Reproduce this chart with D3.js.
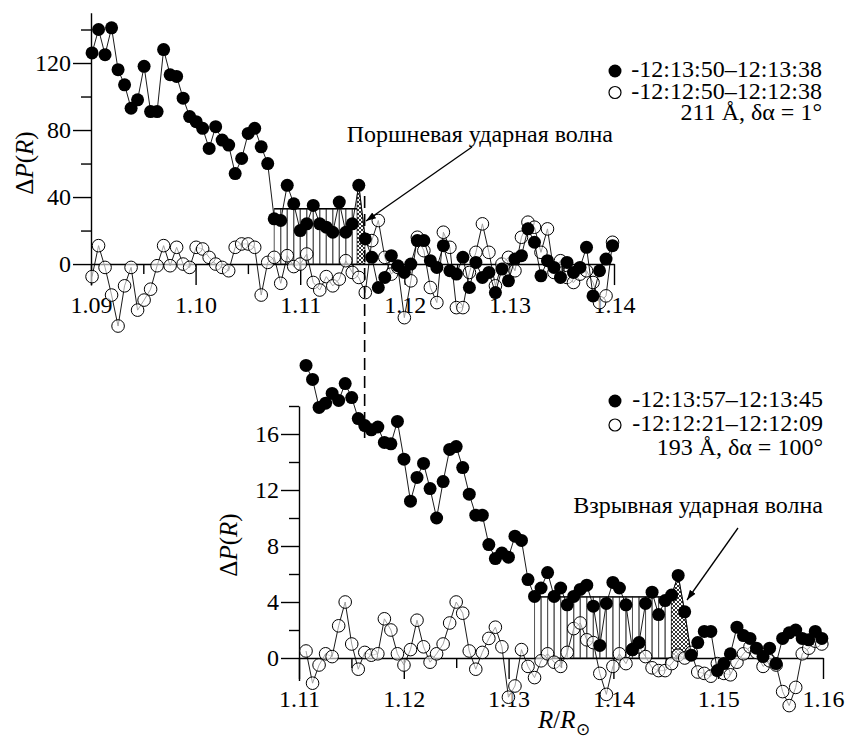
<!DOCTYPE html>
<html>
<head>
<meta charset="utf-8">
<script src="https://cdn.jsdelivr.net/npm/d3@7/dist/d3.min.js"></script>
<style>
  body { margin: 0; background: #fff; }
  text { font-family: "Liberation Serif", "Times New Roman", serif; fill: #000; }
</style>
</head>
<body>
<div id="chart"></div>
<script>
let width = 849;
let height = 738;

// ---- top panel: 211 A, delta alpha = 1 deg ----
let topR0 = 1.0901;
let topStep = 0.000622;
let topFilled = [126, 140, 125, 141, 116, 107, 93, 98, 118, 91, 91, 128, 113, 112, 99, 88, 85, 81, 69, 82,
    74, 71, 54, 63, 78, 81, 70, 60, 27, 26, 47, 36, 20, 24, 35, 24, 22, 19, 37, 19,
    24, 47, 15, 4, -14, -8, 5, -1, -5, 0, 14, 14, 2, -2, 11, -4, -6, 4, -14, 1,
    -8, -5, -17, -3, -10, 3, 5, 21, 13, -7, 2, -2, -8, 1, -5, -2, 10, -19, -4, 3, 11];
let topOpen = [-7.5, 11, -2, -18.5, -37, -13, -2, -27.5, -21.5, -15, -1, 11, -1, 10, 0, -2, 10, 9, 4, 0,
    -2, -4, 10, 12, 12, 10, -18.5, 1, 4, -11.5, 5, -1.5, 0, 6, -11, -15.5, -7.5, -13, -9, 2,
    -5, -8, -17, 14, 26, 4, -6, -2, -32, -10, 16, 8, -14, -23, 19, 10, -26, -26, -5, 7,
    24, 7, -13, 0, 4, -4, 16, 25, 22, 7, 21, -5, 2, -8, -11, -6, -4, -11, -23, -19, 13];
let topTicksX = [1.09, 1.10, 1.11, 1.12, 1.13, 1.14];
let topMinorX = [1.095, 1.105, 1.115, 1.125, 1.135];
let topTicksY = [0, 40, 80, 120];
let topMinorY = [20, 60, 100, 140];
let topBar = [28, 41, 33];          // first index, last index, mean level
let topHatch = [1.11543, 1.11619];   // R range under the hatched peak
let topLegend = ["-12:13:50\u201312:13:38", "-12:12:50\u201312:12:38", "211 \u00c5, \u03b4\u03b1 = 1\u00b0"];
let topNote = "Поршневая ударная волна";

// ---- bottom panel: 193 A, delta alpha = 100 deg ----
let botR0 = 1.11067;
let botStep = 0.000623;
let botFilled = [20.9, 19.9, 17.9, 18.2, 18.9, 18.4, 19.6, 18.6, 17.1, 16.6, 16.3, 16.5, 15.4, 15.3, 16.9, 14.2,
    11.2, 12.9, 13.9, 12.1, 10.0, 12.6, 14.9, 15.1, 13.6, 11.7, 10.2, 10.2, 8.1, 7.1, 7.5, 7.2,
    8.7, 8.4, 5.6, 4.4, 5.0, 6.1, 4.4, 5.0, 3.8, 4.4, 4.9, 5.2, 3.7, 0.9, 3.9, 5.4, 5.0, 3.8,
    0.6, 1.1, 3.9, 4.7, 3.1, 4.1, 4.5, 5.9, 3.3, 0.2, 1.1, 1.9, 1.9, -0.9, -0.4, 0.3, 2.2, 1.6,
    1.4, 0.7, 0.1, 0.7, -0.4, 1.4, 1.8, 2.0, 1.4, 1.3, 1.9, 1.4];
let botOpen = [0.5, -1.8, -0.5, 0.3, 0.1, 2.3, 4.0, 1.0, -0.8, 0.4, 0.2, 0.3, 2.8, 2.0, 0.3, -0.5,
    0.6, 2.7, 0.8, -0.3, 0.3, 1.0, 2.5, 4.0, 3.2, 0.5, -0.8, 0.4, 1.4, 2.2, 0.8, -2.8,
    -2.0, 0.6, -0.6, -1.4, -0.2, 0.3, -0.3, -0.6, 0.4, 2.1, 2.5, 1.3, 1.1, -1.1, -2.6, -0.6,
    0.3, -0.4, 0.6, 0.8, 0.1, -0.7, -0.9, -0.9, -0.4, 0.2, 0.0, 0.4, -1.0, -1.1, -1.3, -0.4,
    -1.1, -1.2, -0.3, 0.3, 0.8, 0.4, -0.6, -0.2, -0.5, -2.4, -3.4, -2.1, 0.3, 0.7, 1.2, 1.0];
let botTicksX = [1.11, 1.12, 1.13, 1.14, 1.15, 1.16];
let botMinorX = [1.115, 1.125, 1.135, 1.145, 1.155];
let botTicksY = [0, 4, 8, 12, 16];
let botMinorY = [2, 6, 10, 14, 18];
let botBar = [35, 56, 4.36];
let botHatch = [1.14553, 1.14734];
let botLegend = ["-12:13:57\u201312:13:45", "-12:12:21\u201312:12:09", "193 \u00c5, \u03b4\u03b1 = 100\u00b0"];
let botNote = "Взрывная ударная волна";

// R position of the dashed guide line joining both panels
let guideR = 1.11616;

let svg = d3.select("#chart")
    .append("svg")
    .attr("width", width)
    .attr("height", height);

let defs = svg.append("defs");
let hatch = defs.append("pattern")
    .attr("id", "xhatch")
    .attr("patternUnits", "userSpaceOnUse")
    .attr("width", 4)
    .attr("height", 4);
hatch.append("rect").attr("width", 4).attr("height", 4).attr("fill", "#fff");
hatch.append("path").attr("d", "M0,0L4,4M4,0L0,4").attr("stroke", "#000").attr("stroke-width", 0.8);

defs.append("marker")
    .attr("id", "arrow")
    .attr("viewBox", "0 0 10 10")
    .attr("refX", 10).attr("refY", 5)
    .attr("markerWidth", 10).attr("markerHeight", 10)
    .attr("markerUnits", "userSpaceOnUse")
    .attr("orient", "auto")
    .append("path")
    .attr("d", "M0,1.5L10,5L0,8.5Z")
    .attr("fill", "#000");

function drawPanel(p) {
    let x = d3.scaleLinear().domain(p.xDomain).range(p.xRange);
    let y = d3.scaleLinear().domain(p.yDomain).range(p.yRange);
    let g = svg.append("g");

    let filled = p.filled.map((v, i) => ({r: p.r0 + i * p.step, v: v}));
    let open = p.open.map((v, i) => ({r: p.r0 + i * p.step, v: v}));

    // bars at mean level
    for (let i = p.bar[0]; i < p.bar[1]; i++) {
        g.append("rect")
            .attr("x", x(filled[i].r))
            .attr("y", y(p.bar[2]))
            .attr("width", x(filled[i + 1].r) - x(filled[i].r))
            .attr("height", y(0) - y(p.bar[2]))
            .attr("fill", "none")
            .attr("stroke", "#555")
            .attr("stroke-width", 1);
    }
    g.append("line")
        .attr("x1", x(filled[p.bar[0]].r)).attr("x2", x(filled[p.bar[1]].r))
        .attr("y1", y(p.bar[2])).attr("y2", y(p.bar[2]))
        .attr("stroke", "#000").attr("stroke-width", 1.3);

    // cross-hatched area under the peak
    let interp = function (r) {
        let i = Math.floor((r - p.r0) / p.step);
        let t = (r - filled[i].r) / p.step;
        return filled[i].v + t * (filled[i + 1].v - filled[i].v);
    };
    let poly = [[p.hatch[0], 0], [p.hatch[0], interp(p.hatch[0])]];
    filled.forEach(d => { if (d.r > p.hatch[0] && d.r < p.hatch[1]) poly.push([d.r, d.v]); });
    poly.push([p.hatch[1], interp(p.hatch[1])], [p.hatch[1], 0]);
    g.append("path")
        .attr("d", "M" + poly.map(d => x(d[0]) + "," + y(Math.max(d[1], 0))).join("L") + "Z")
        .attr("fill", "url(#xhatch)")
        .attr("stroke", "#000")
        .attr("stroke-width", 0.6);

    // y axis
    let yAxis = g.append("g")
        .attr("transform", "translate(" + p.xRange[0] + ",0)")
        .call(d3.axisLeft(y).tickValues(p.ticksY).tickSize(18).tickSizeOuter(0).tickPadding(2));
    g.append("g")
        .attr("transform", "translate(" + p.xRange[0] + ",0)")
        .call(d3.axisLeft(y).tickValues(p.minorY).tickSize(10).tickFormat(""))
        .select(".domain").remove();

    // x axis along zero
    let xAxis = g.append("g")
        .attr("transform", "translate(0," + y(0) + ")")
        .call(d3.axisBottom(x).tickValues(p.ticksX).tickSize(21).tickSizeOuter(0).tickPadding(11)
            .tickFormat(d3.format(".2f")));
    g.append("g")
        .attr("transform", "translate(0," + y(0) + ")")
        .call(d3.axisBottom(x).tickValues(p.minorX).tickSize(10).tickFormat(""))
        .select(".domain").remove();

    [yAxis, xAxis].forEach(a => {
        a.attr("font-family", null);
        a.selectAll("text").style("font-family", "'Liberation Serif', serif").style("font-size", "24px");
        a.selectAll("line, path").attr("stroke", "#000").attr("stroke-width", 1.4);
    });
    g.selectAll(".tick line").attr("stroke", "#000").attr("stroke-width", 1.4);

    // axis title
    g.append("text")
        .attr("transform", "translate(" + p.yTitle[0] + "," + p.yTitle[1] + ") rotate(-90)")
        .attr("text-anchor", "middle")
        .style("font-size", "25px")
        .html("\u0394<tspan font-style='italic'>P</tspan>(<tspan font-style='italic'>R</tspan>)");

    let line = d3.line().x(d => x(d.r)).y(d => y(d.v));

    // open series first
    g.append("path").datum(open).attr("d", line)
        .attr("fill", "none").attr("stroke", "#000").attr("stroke-width", 0.9);
    g.selectAll(".open").data(open).enter().append("circle")
        .attr("class", "open")
        .attr("cx", d => x(d.r)).attr("cy", d => y(d.v)).attr("r", 6.3)
        .attr("fill", "#fff").attr("fill-opacity", 0.6)
        .attr("stroke", "#000").attr("stroke-width", 1);

    g.append("path").datum(filled).attr("d", line)
        .attr("fill", "none").attr("stroke", "#000").attr("stroke-width", 0.9);
    g.selectAll(".filled").data(filled).enter().append("circle")
        .attr("class", "filled")
        .attr("cx", d => x(d.r)).attr("cy", d => y(d.v)).attr("r", 6.5)
        .attr("fill", "#000");

    // legend
    p.legend.forEach((t, i) => {
        g.append("text")
            .attr("x", p.legendPos[0]).attr("y", p.legendPos[1] + i * p.legendPos[2])
            .attr("text-anchor", "end")
            .style("font-size", "24px")
            .text(t);
    });
    g.append("circle").attr("cx", p.legendPos[3]).attr("cy", p.legendPos[1] - 6).attr("r", 6.5).attr("fill", "#000");
    g.append("circle").attr("cx", p.legendPos[3]).attr("cy", p.legendPos[1] + p.legendPos[2] - 6).attr("r", 6)
        .attr("fill", "#fff").attr("stroke", "#000").attr("stroke-width", 1.2);

    // annotation with arrow
    g.append("text")
        .attr("x", p.notePos[0]).attr("y", p.notePos[1])
        .attr("text-anchor", "end")
        .style("font-size", "24px")
        .text(p.note);
    g.append("line")
        .attr("x1", p.arrow[0]).attr("y1", p.arrow[1])
        .attr("x2", p.arrow[2]).attr("y2", p.arrow[3])
        .attr("stroke", "#000").attr("stroke-width", 1.3)
        .attr("marker-end", "url(#arrow)");

    return {x: x, y: y};
}

let topPanel = drawPanel({
    r0: topR0, step: topStep, filled: topFilled, open: topOpen,
    xDomain: [1.09, 1.14], xRange: [91, 614],
    yDomain: [-12.5, 150], yRange: [285, 12.75],
    ticksX: topTicksX, minorX: topMinorX, ticksY: topTicksY, minorY: topMinorY,
    bar: topBar, hatch: topHatch,
    yTitle: [33, 163],
    legend: topLegend, legendPos: [822, 77, 21.5, 615],
    note: topNote, notePos: [613, 142], arrow: [472, 147, 366, 221]
});

let botPanel = drawPanel({
    r0: botR0, step: botStep, filled: botFilled, open: botOpen,
    xDomain: [1.11, 1.16], xRange: [299, 823],
    yDomain: [-1.6, 18], yRange: [680.4, 406],
    ticksX: botTicksX, minorX: botMinorX, ticksY: botTicksY, minorY: botMinorY,
    bar: botBar, hatch: botHatch,
    yTitle: [237, 545],
    legend: botLegend, legendPos: [823, 407, 24, 615],
    note: botNote, notePos: [823, 513], arrow: [738, 528, 687, 600]
});

// dashed guide connecting the piston shock front in both panels
svg.append("line")
    .attr("x1", topPanel.x(guideR)).attr("x2", topPanel.x(guideR))
    .attr("y1", 196).attr("y2", 438)
    .attr("stroke", "#000").attr("stroke-width", 1.6)
    .attr("stroke-dasharray", "12,6");

// x axis title
let xt = svg.append("text")
    .attr("x", 538).attr("y", 728)
    .style("font-size", "25px");
xt.append("tspan").attr("font-style", "italic").text("R");
xt.append("tspan").text("/");
xt.append("tspan").attr("font-style", "italic").text("R");
xt.append("tspan").attr("dy", 7).style("font-size", "17px").text("\u2299");
</script>
</body>
</html>
